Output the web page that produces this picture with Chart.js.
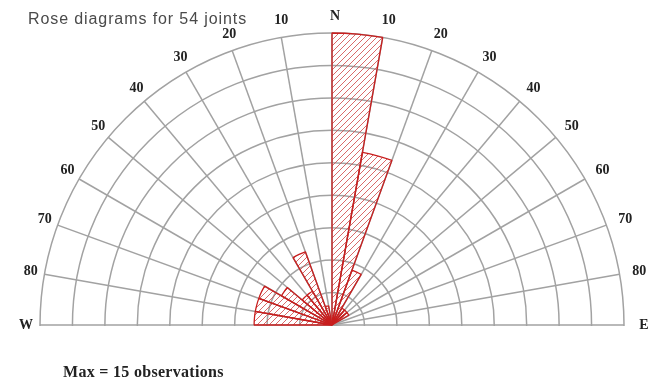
<!DOCTYPE html>
<html>
<head>
<meta charset="utf-8">
<script src="https://cdn.jsdelivr.net/npm/chart.js@4/dist/chart.umd.min.js"></script>
<style>
  html, body { margin: 0; padding: 0; background: #fff; overflow: hidden; }
  #frame { position: relative; width: 662px; height: 382px; overflow: hidden; background: #fff; }
  #plot { position: absolute; left: 0; top: 0; width: 662px; height: 617px; }
  #title { position: absolute; left: 28px; top: 10px; font: 16px "Liberation Sans", Arial, sans-serif;
           color: #4a4a4a; letter-spacing: 0.9px; white-space: nowrap; }
  #note { position: absolute; left: 63px; top: 363px; font: bold 16px "Liberation Serif", "Times New Roman", serif;
          color: #222; letter-spacing: 0.3px; white-space: nowrap; }
</style>
</head>
<body>
<div id="frame">
  <div id="plot"><canvas id="rose"></canvas></div>
  <div id="title">Rose diagrams for 54 joints</div>
  <div id="note">Max = 15 observations</div>
</div>
<script>
// Strike directions in 10-degree sectors, clockwise from North.
// Labels mark the spoke at the start of each sector; the southern half is empty.
const spokeLabels = ['N', '10', '20', '30', '40', '50', '60', '70', '80', 'E',
  '', '', '', '', '', '', '', '', '', '', '', '', '', '', '', '', '',
  'W', '80', '70', '60', '50', '40', '30', '20', '10'];

// Number of joints per sector (N0-10E, N10-20E, ... , N10-0W)
const northEastCounts = [15, 9, 3, 1, 1, 1, 0, 0, 0];
const southCounts = [0, 0, 0, 0, 0, 0, 0, 0, 0, 0, 0, 0, 0, 0, 0, 0, 0, 0];
const northWestCounts = [4, 4, 4, 3, 2, 2, 4, 1, 0];
const sectorCounts = northEastCounts.concat(southCounts, northWestCounts);

const maxObservations = 15;
const ringCount = 9;

// Diagonal red hatching for the petals
function hatchPattern() {
  const tile = document.createElement('canvas');
  tile.width = 6; tile.height = 6;
  const g = tile.getContext('2d');
  g.strokeStyle = 'rgba(210,80,80,0.85)';
  g.lineWidth = 1;
  g.beginPath();
  g.moveTo(0, 6); g.lineTo(6, 0);
  g.moveTo(-1, 1); g.lineTo(1, -1);
  g.moveTo(5, 7); g.lineTo(7, 5);
  g.stroke();
  return g.createPattern(tile, 'repeat');
}

// Keep only the northern half of the rose
const upperHalf = {
  id: 'upperHalf',
  beforeDraw(chart) {
    const r = chart.scales.r;
    const ctx = chart.ctx;
    ctx.save();
    ctx.beginPath();
    ctx.rect(0, 0, chart.width, r.yCenter + 1);
    ctx.clip();
  },
  afterDraw(chart) {
    chart.ctx.restore();
  }
};

// Direction labels just outside the outer ring
const spokeText = {
  id: 'spokeText',
  afterDraw(chart) {
    const r = chart.scales.r;
    const ctx = chart.ctx;
    ctx.save();
    ctx.fillStyle = '#222';
    ctx.font = 'bold 14px "Liberation Serif", "Times New Roman", serif';
    ctx.textAlign = 'center';
    ctx.textBaseline = 'middle';
    spokeLabels.forEach((label, i) => {
      if (!label) return;
      const p = r.getPointPosition(i, r.drawingArea + 17);
      ctx.fillText(label, p.x + 3, p.y);
    });
    ctx.restore();
  }
};

new Chart(document.getElementById('rose'), {
  type: 'polarArea',
  data: {
    labels: spokeLabels,
    datasets: [{
      data: sectorCounts,
      backgroundColor: hatchPattern(),
      borderColor: '#c81e1e',
      borderWidth: 1.3
    }]
  },
  options: {
    responsive: true,
    maintainAspectRatio: false,
    animation: false,
    events: [],
    layout: { padding: { left: 40, right: 38, top: 33, bottom: 0 } },
    plugins: { legend: { display: false }, tooltip: { enabled: false } },
    scales: {
      r: {
        min: 0,
        max: maxObservations,
        startAngle: 0,
        ticks: { display: false, count: ringCount + 1 },
        grid: { circular: true, color: '#a2a2a2', lineWidth: 1.5 },
        angleLines: { display: true, color: '#a2a2a2', lineWidth: 1.5 },
        pointLabels: { display: false }
      }
    }
  },
  plugins: [upperHalf, spokeText]
});
</script>
</body>
</html>
